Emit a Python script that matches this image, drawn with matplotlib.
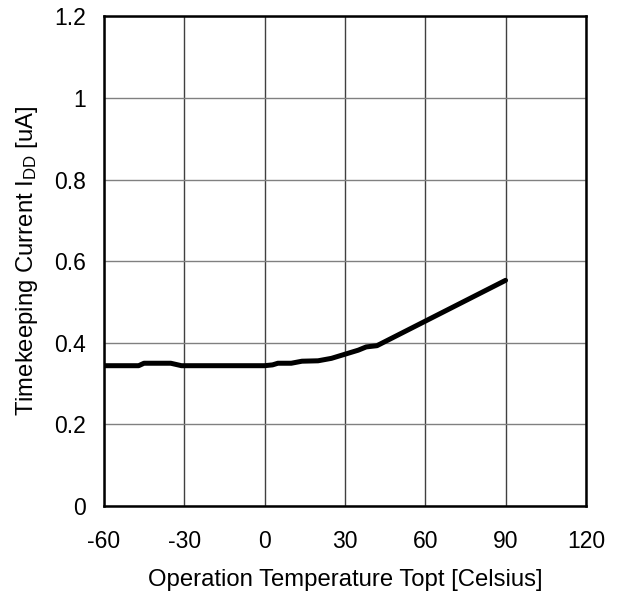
import matplotlib
matplotlib.use("Agg")
import matplotlib.pyplot as plt

plt.rcParams['font.family'] = ['Liberation Sans', 'DejaVu Sans']
plt.rcParams['mathtext.fontset'] = 'custom'
plt.rcParams['mathtext.rm'] = 'Liberation Sans'
plt.rcParams['mathtext.it'] = 'Liberation Sans'
plt.rcParams['axes.unicode_minus'] = False

temperature = [-60, -47, -45, -35, -31, 0, 3, 5, 10, 14, 20, 25, 30, 35, 38, 42, 90]
current = [0.344, 0.344, 0.350, 0.350, 0.344, 0.344, 0.346, 0.350, 0.350, 0.355,
           0.356, 0.362, 0.372, 0.382, 0.390, 0.393, 0.553]
x_ticks = [-60, -30, 0, 30, 60, 90, 120]
y_ticks = [0, 0.2, 0.4, 0.6, 0.8, 1.0, 1.2]
y_tick_labels = ['0', '0.2', '0.4', '0.6', '0.8', '1', '1.2']

fig = plt.figure(figsize=(6.18, 5.99), dpi=100)
ax = fig.add_axes([0.168, 0.155, 0.780, 0.818])
ax.plot(temperature, current, color='black', linewidth=3.6, solid_capstyle='round', zorder=3)
ax.set_xlim(-60, 120)
ax.set_ylim(0, 1.2)
ax.set_xticks(x_ticks)
ax.set_yticks(y_ticks)
ax.set_yticklabels(y_tick_labels)
ax.xaxis.grid(True, color='#404040', linewidth=1.0)
ax.yaxis.grid(True, color='#808080', linewidth=1.0)
ax.tick_params(axis='x', length=0, labelsize=16.5, pad=17)
ax.tick_params(axis='y', length=0, labelsize=16.5, pad=13)
for s in ax.spines.values():
    s.set_linewidth(1.8)
    s.set_color('black')
ax.set_xlabel('Operation Temperature Topt [Celsius]', fontsize=17.2, labelpad=12)
ax.set_ylabel(r'Timekeeping Current I$_{\rm DD}$ [uA]', fontsize=17.2, labelpad=10)
fig.savefig('out.png', dpi=100)
